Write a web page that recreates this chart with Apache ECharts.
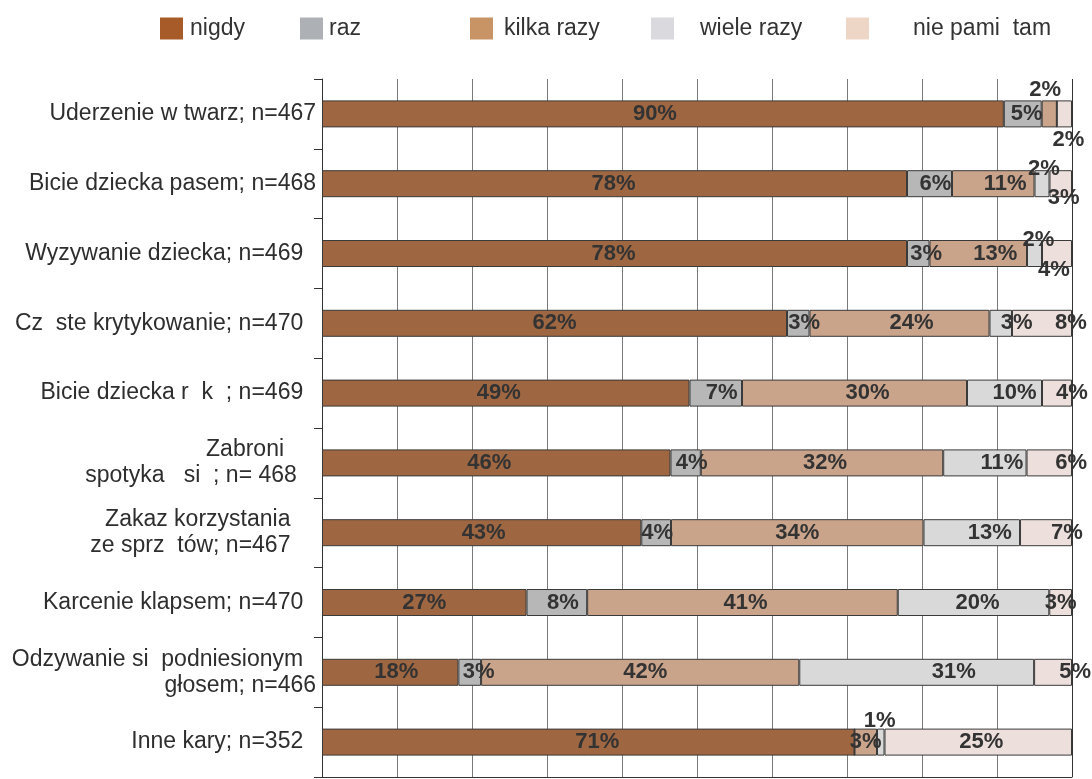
<!DOCTYPE html>
<html>
<head>
<meta charset="utf-8">
<title>Kary stosowane wobec dzieci</title>
<script src="https://cdn.jsdelivr.net/npm/echarts@6/dist/echarts.min.js"></script>
<style>
  html, body { margin: 0; padding: 0; background: #fff; }
  #chart { width: 1092px; height: 779px; }
</style>
</head>
<body>
<div id="chart"></div>
<script>
  // kategorie (trailing spaces keep the original label alignment)
  const categories = [
    'Uderzenie w twarz; n=467',
    'Bicie dziecka pasem; n=468',
    'Wyzywanie dziecka; n=469  ',
    'Cz  ste krytykowanie; n=470  ',
    'Bicie dziecka r  k  ; n=469  ',
    'Zabroni     \nspotyka   si  ; n= 468   ',
    'Zakaz korzystania    \nze sprz  tów; n=467    ',
    'Karcenie klapsem; n=470  ',
    'Odzywanie si  podniesionym  \ngłosem; n=466',
    'Inne kary; n=352  '
  ];

  const seriesNames = ['nigdy', 'raz', 'kilka razy', 'wiele razy', 'nie pami  tam'];

  // wartosci w % (jak na etykietach)
  const nigdy       = [90, 78, 78, 62, 49, 46, 43, 27, 18, 71];
  const raz         = [5, 6, 3, 3, 7, 4, 4, 8, 3, 0];
  const kilkaRazy   = [2, 11, 13, 24, 30, 32, 34, 41, 42, 3];
  const wieleRazy   = [0, 2, 2, 3, 10, 11, 13, 20, 31, 1];
  const niePamietam = [2, 3, 4, 8, 4, 6, 7, 3, 5, 25];

  const values = [nigdy, raz, kilkaRazy, wieleRazy, niePamietam];

  const barColors = ['#9e6641', '#b7b7b7', '#c9a38a', '#d9d9d9', '#ede0dc'];
  const legendColors = ['#a65b28', '#adb0b4', '#c89466', '#d9d9de', '#eed6c6'];
  const legendLeft = [160, 300, 470, 651, 846];
  const legendTextPad = [2, 1, 6, 21, 39];

  // przesuniecia etykiet [dx, dy] per wiersz / seria
  const labelNudge = [
    [[-8, 0], [4, 0], [-4, -24], [0, 0], [4, 26]],
    [[-1, 0], [6, 0], [12, 0], [2, -15], [3, 14]],
    [[-1, 0], [8, 0], [17, 0], [4, -14], [-3, 16]],
    [[0, 0], [6, 0], [12, 0], [16, 0], [29, 0]],
    [[-7, 0], [6, 0], [13, 0], [10, 0], [15, 0]],
    [[-7, 0], [6, 0], [3, 0], [17, 0], [22, 0]],
    [[2, 0], [1, 0], [0, 0], [18, 0], [21, 0]],
    [[0, 0], [6, 0], [3, 0], [4, 0], [0, 0]],
    [[6, 0], [9, 0], [5, 0], [37, 0], [22, 0]],
    [[9, 0], [0, 0], [0, 0], [-1, -21], [3, 0]]
  ];

  const rowSums = categories.map(function (c, i) {
    let s = 0;
    for (let k = 0; k < values.length; k++) s += values[k][i];
    return s;
  });

  let myChart = echarts.init(document.getElementById('chart'));

  let series = seriesNames.map(function (name, k) {
    return {
      name: name,
      type: 'bar',
      stack: 'total',
      barWidth: 27,
      itemStyle: {
        color: barColors[k],
        borderColor: '#3a3a3a',
        borderWidth: 1
      },
      label: {
        show: true,
        position: 'inside',
        fontFamily: 'Liberation Sans, Arial, sans-serif',
        fontWeight: 'bold',
        fontSize: 22,
        color: '#333333',
        formatter: function (p) {
          return p.data.raw > 0 ? p.data.raw + '%' : '';
        }
      },
      emphasis: { disabled: true },
      data: values[k].map(function (v, i) {
        return {
          value: v / rowSums[i] * 100,
          raw: v,
          label: { offset: labelNudge[i][k] }
        };
      })
    };
  });

  let legends = seriesNames.map(function (name, k) {
    return {
      left: legendLeft[k],
      top: 17,
      padding: 0,
      itemWidth: 23,
      itemHeight: 22,
      icon: 'rect',
      selectedMode: false,
      textStyle: {
        fontFamily: 'Liberation Sans, Arial, sans-serif',
        fontSize: 23,
        color: '#333333',
        padding: [0, 0, 0, legendTextPad[k]]
      },
      data: [{
        name: name,
        itemStyle: { color: legendColors[k], borderWidth: 0 }
      }]
    };
  });

  let gridColors = [];
  for (let i = 0; i < 11; i++) gridColors.push(i === 10 ? '#333333' : '#7a7a7a');

  myChart.setOption({
    animation: false,
    legend: legends,
    grid: {
      left: 322,
      right: 20,
      top: 79,
      bottom: 2,
      containLabel: false
    },
    xAxis: {
      type: 'value',
      min: 0,
      max: 100,
      interval: 10,
      axisLine: { show: true, lineStyle: { color: '#333333', width: 1 } },
      axisTick: { show: false },
      axisLabel: { show: false },
      splitLine: { show: true, lineStyle: { color: gridColors, width: 1 } }
    },
    yAxis: {
      type: 'category',
      inverse: true,
      data: categories,
      axisLine: { show: true, lineStyle: { color: '#333333', width: 1 } },
      axisTick: { show: true, length: 8, lineStyle: { color: '#333333' } },
      axisLabel: {
        margin: 6,
        fontFamily: 'Liberation Sans, Arial, sans-serif',
        fontSize: 23,
        lineHeight: 26,
        color: '#2e2e2e',
        align: 'right'
      }
    },
    series: series
  });
</script>
</body>
</html>
